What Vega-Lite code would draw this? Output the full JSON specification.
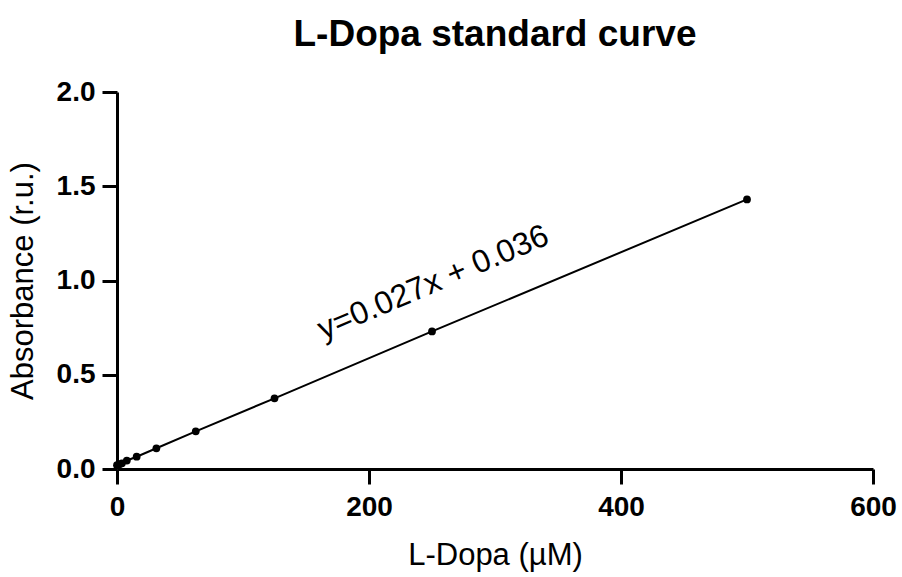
{
  "$schema": "https://vega.github.io/schema/vega-lite/v6.json",
  "width": 756,
  "height": 377,
  "autosize": {"type": "none"},
  "padding": {"left": 117, "top": 92, "right": 29, "bottom": 108},
  "background": "white",
  "title": {
    "text": "L-Dopa standard curve",
    "font": "Liberation Sans",
    "fontSize": 37,
    "fontWeight": "bold",
    "color": "black",
    "anchor": "middle",
    "offset": 24
  },
  "config": {
    "view": {"stroke": null},
    "axis": {
      "domainColor": "black",
      "domainWidth": 3,
      "tickColor": "black",
      "tickWidth": 3,
      "tickSize": 15,
      "grid": false,
      "labelFlush": false,
      "labelFont": "Liberation Sans",
      "labelFontSize": 28,
      "labelFontWeight": "bold",
      "labelColor": "black",
      "titleFont": "Liberation Sans",
      "titleFontSize": 31,
      "titleFontWeight": "normal",
      "titleColor": "black"
    }
  },
  "data": {
    "values": [
      {"conc": 0, "abs": 0.02},
      {"conc": 1.95, "abs": 0.025},
      {"conc": 3.9, "abs": 0.03},
      {"conc": 7.8, "abs": 0.045},
      {"conc": 15.6, "abs": 0.065},
      {"conc": 31.25, "abs": 0.11},
      {"conc": 62.5, "abs": 0.2},
      {"conc": 125, "abs": 0.375},
      {"conc": 250, "abs": 0.73},
      {"conc": 500, "abs": 1.43}
    ]
  },
  "layer": [
    {
      "mark": {"type": "line", "color": "black", "strokeWidth": 2},
      "encoding": {
        "x": {
          "field": "conc",
          "type": "quantitative",
          "scale": {"domain": [0, 600], "nice": false},
          "axis": {"values": [0, 200, 400, 600], "title": "L-Dopa (µM)", "labelPadding": 9, "titlePadding": 19}
        },
        "y": {
          "field": "abs",
          "type": "quantitative",
          "scale": {"domain": [0, 2], "nice": false},
          "axis": {"values": [0, 0.5, 1, 1.5, 2], "format": ".1f", "title": "Absorbance (r.u.)", "labelPadding": 7, "titlePadding": 17}
        }
      }
    },
    {
      "mark": {"type": "point", "filled": true, "color": "black", "size": 60, "opacity": 1},
      "encoding": {
        "x": {"field": "conc", "type": "quantitative"},
        "y": {"field": "abs", "type": "quantitative"}
      }
    },
    {
      "data": {"values": [{"conc": 251, "abs": 0.99, "label": "y=0.027x + 0.036"}]},
      "mark": {"type": "text", "font": "Liberation Sans", "fontSize": 32, "angle": 337, "align": "center", "baseline": "middle", "color": "black"},
      "encoding": {
        "x": {"field": "conc", "type": "quantitative"},
        "y": {"field": "abs", "type": "quantitative"},
        "text": {"field": "label"}
      }
    }
  ]
}
